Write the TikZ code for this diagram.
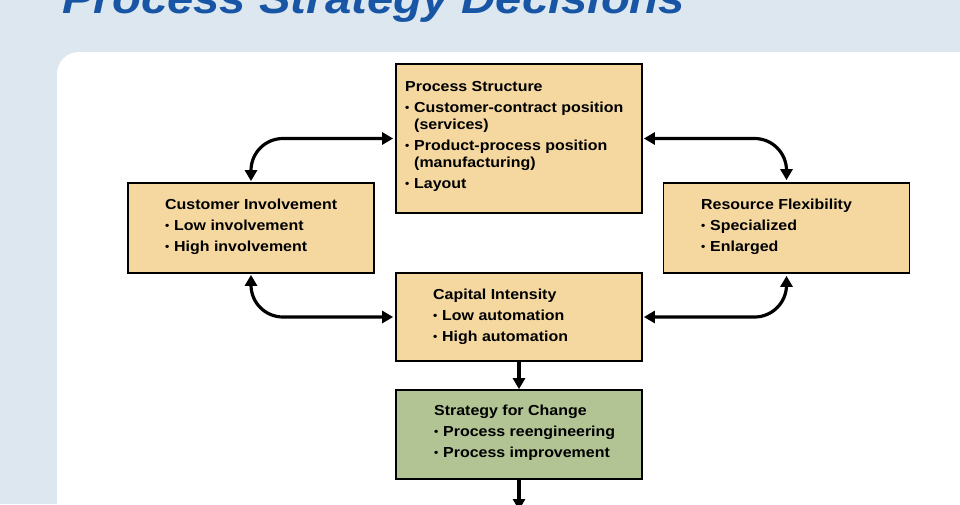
\documentclass[tikz,border=0pt]{standalone}
\usepackage{fontspec}
\setmainfont[FakeStretch=1.1]{Liberation Sans}
\usetikzlibrary{arrows.meta}
\definecolor{bgblue}{RGB}{220,231,240}
\definecolor{tan}{RGB}{244,216,160}
\definecolor{sage}{RGB}{178,196,148}
\definecolor{titleblue}{RGB}{24,85,165}
\definecolor{shadowgray}{RGB}{160,175,190}
\newcommand\bul{\makebox[9pt][l]{\raisebox{0.8pt}{\fontsize{11}{11}\selectfont\textbullet}}}
\newcommand\hang{\hspace*{9pt}}
\tikzset{
  box/.style={draw=black, line width=1.7pt, fill=tan, minimum width=246pt, inner sep=0pt},
  gbox/.style={box, fill=sage},
  txt/.style={anchor=base west, inner sep=0pt, font=\fontsize{14.5}{17}\selectfont\bfseries},
  conn/.style={line width=3.2pt, rounded corners=32pt, {Triangle[length=11pt,width=12pt]}-{Triangle[length=11pt,width=12pt]}, shorten >=2pt, shorten <=1pt},
  down/.style={line width=3.2pt, -{Triangle[length=11pt,width=12pt]}}
}
\begin{document}
\begin{tikzpicture}[x=1pt,y=-1pt]
\clip (0,0) rectangle (960,504);
\fill[bgblue] (0,0) rectangle (960,504);
\fill[white, rounded corners=22pt] (57,52) rectangle (1020,580);
% title
\node[anchor=base west, inner sep=0pt, text=titleblue, font=\fontsize{43}{43}\selectfont\bfseries\itshape,
      preaction={text=shadowgray}] (title) at (62,13) {Process Strategy Decisions};
% boxes
\node[box, minimum height=149pt] (ps) at (519,138.5) {};
\node[box, minimum height=90pt] (ci) at (251,228) {};
\node[box, minimum height=90pt] (rf) at (786.5,228) {};
\node[box, minimum height=88pt] (cap) at (519,317) {};
\node[gbox, minimum height=89pt] (sc) at (519,434.5) {};
% texts
\node[txt] (pstext) at (405,91) {\parbox[t]{235pt}{\raggedright Process Structure\\[4pt]
\bul Customer-contract position\\
\hang(services)\\[4pt]
\bul Product-process position\\
\hang(manufacturing)\\[4pt]
\bul Layout}};
\node[txt] (citext) at (165,209) {\parbox[t]{200pt}{\raggedright Customer Involvement\\[4pt]
\bul Low involvement\\[4pt]
\bul High involvement}};
\node[txt] (rftext) at (701,209) {\parbox[t]{200pt}{\raggedright Resource Flexibility\\[4pt]
\bul Specialized\\[4pt]
\bul Enlarged}};
\node[txt] (captext) at (433,299) {\parbox[t]{200pt}{\raggedright Capital Intensity\\[4pt]
\bul Low automation\\[4pt]
\bul High automation}};
\node[txt] (sctext) at (434,415) {\parbox[t]{200pt}{\raggedright Strategy for Change\\[4pt]
\bul Process reengineering\\[4pt]
\bul Process improvement}};
% connectors
\draw[conn] (ci.north) |- (ps.west);
\draw[conn] (ci.south) |- (cap.west);
\draw[conn] (ps.east) -| (rf.north);
\draw[conn] (cap.east) -| (rf.south);
\draw[down] (cap.south) -- (sc.north);
\coordinate (below) at (519,510);
\draw[down] (sc.south) -- (below);
\end{tikzpicture}
\end{document}
